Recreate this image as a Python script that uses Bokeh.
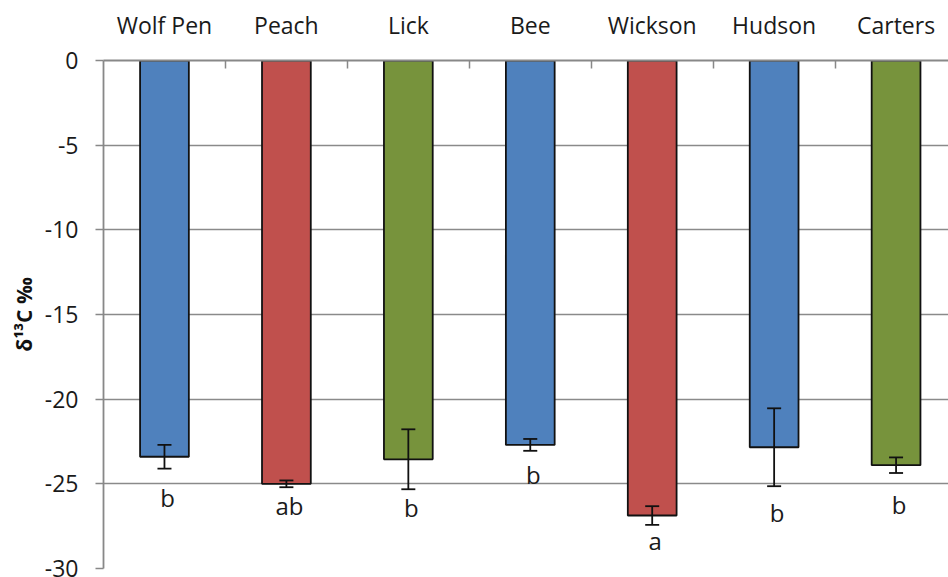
from bokeh.plotting import figure
from bokeh.models import ColumnDataSource, FixedTicker, Range1d
from bokeh.core.properties import value
from bokeh.embed import file_html
from bokeh.resources import INLINE

categories = ["Wolf Pen", "Peach", "Lick", "Bee", "Wickson", "Hudson", "Carters"]
means = [-23.4, -25.0, -23.55, -22.7, -26.87, -22.84, -23.9]
errors = [0.7, 0.2, 1.77, 0.35, 0.55, 2.3, 0.46]
letters = ["b", "ab", "b", "b", "a", "b", "b"]
letter_y = [-25.81, -26.28, -26.4, -24.45, -28.35, -26.7, -26.22]
colors = ["#4F81BD", "#C0504D", "#77933C", "#4F81BD", "#C0504D", "#4F81BD", "#77933C"]
y_ticks = [-30, -25, -20, -15, -10, -5, 0]

FONT = "Open Sans"

xs = [i + 0.5 for i in range(len(categories))]
src = ColumnDataSource(dict(
    x=xs, top=[0] * len(means), bottom=means, color=colors,
    upper=[m + e for m, e in zip(means, errors)],
    lower=[m - e for m, e in zip(means, errors)],
    letter=letters, ly=letter_y,
))

p = figure(width=948, height=577, output_backend="svg", toolbar_location=None,
           x_range=Range1d(0, 6.93), y_range=Range1d(-30, 0),
           x_axis_location="above",
           frame_width=845, frame_height=508,
           min_border_left=103, min_border_top=60, min_border_right=0, min_border_bottom=9)
p.outline_line_color = None

p.ygrid.ticker = FixedTicker(ticks=y_ticks)
p.ygrid.grid_line_color = "#8a8a8a"
p.ygrid.grid_line_width = 1.5
p.xgrid.grid_line_color = None

p.vbar(x="x", top="top", bottom="bottom", width=0.4, fill_color="color",
       line_color="#111111", line_width=1.8, source=src)

# error bars
p.segment(x0="x", y0="lower", x1="x", y1="upper", source=src,
          line_color="#111111", line_width=1.8)
p.scatter(x="x", y="upper", marker="dash", size=14, source=src,
          line_color="#111111", line_width=1.8)
p.scatter(x="x", y="lower", marker="dash", size=14, source=src,
          line_color="#111111", line_width=1.8)

p.text(x="x", y="ly", text="letter", source=src, text_align="center",
       text_baseline="middle", text_font=value(FONT), text_font_size="24px",
       text_color="#1a1a1a", x_offset=3)

# top x axis
xa = p.xaxis[0]
xa.ticker = FixedTicker(ticks=xs, minor_ticks=[1, 2, 3, 4, 5, 6])
xa.major_label_overrides = {x: c for x, c in zip(xs, categories)}
xa.major_tick_in = 0
xa.major_tick_out = 0
xa.minor_tick_in = 8
xa.minor_tick_out = 0
xa.minor_tick_line_color = "#888888"
xa.minor_tick_line_width = 1.5
xa.axis_line_color = "#888888"
xa.axis_line_width = 1.8
xa.major_label_standoff = 20
xa.major_label_text_font = FONT
xa.major_label_text_font_size = "23px"
xa.major_label_text_color = "#1a1a1a"

ya = p.yaxis[0]
ya.ticker = FixedTicker(ticks=y_ticks, minor_ticks=[])
ya.major_label_overrides = {t: str(t) for t in y_ticks}
ya.major_tick_out = 8
ya.major_tick_in = 0
ya.major_tick_line_color = "#888888"
ya.major_tick_line_width = 1.5
ya.axis_line_color = "#888888"
ya.axis_line_width = 1.8
ya.major_label_standoff = 17
ya.major_label_text_font = FONT
ya.major_label_text_font_size = "23px"
ya.major_label_text_color = "#1a1a1a"
ya.axis_label = "δ¹³C ‰"
ya.axis_label_text_font = FONT
ya.axis_label_text_font_size = "21px"
ya.axis_label_text_font_style = "bold"
ya.axis_label_text_color = "#111111"
ya.axis_label_standoff = 4

open("out.html", "w").write(file_html(p, INLINE))
